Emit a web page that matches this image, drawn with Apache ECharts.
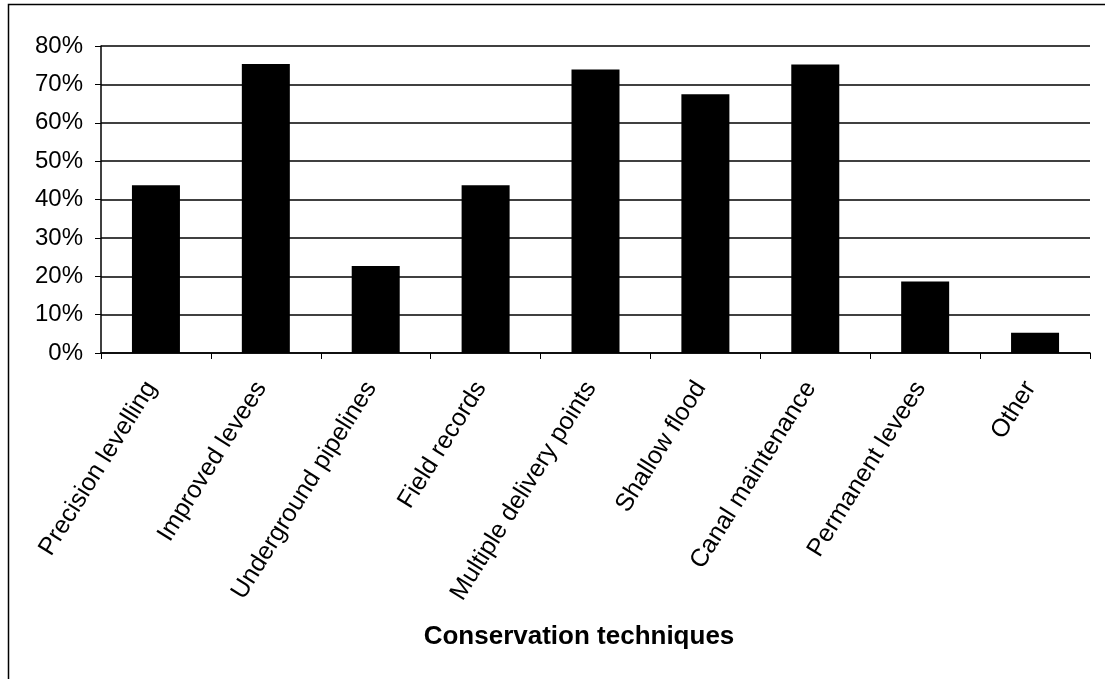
<!DOCTYPE html>
<html>
<head>
<meta charset="UTF-8">
<title>Conservation techniques</title>
<script type="text/javascript" src="https://cdn.jsdelivr.net/npm/echarts@6/dist/echarts.min.js"></script>
<style>
  body{margin:0;background:#fff}
</style>
</head>
<body>

<div id="main" style="width:1105px;height:679px"></div>
<script type="text/javascript">
	// categories and shares
	var techniques = ['Precision levelling', 'Improved levees', 'Underground pipelines', 'Field records',
		'Multiple delivery points', 'Shallow flood', 'Canal maintenance', 'Permanent levees', 'Other'];
	var share = [43.7, 75.3, 22.7, 43.7, 73.9, 67.4, 75.2, 18.6, 5.3];
	var yTicks = [0, 10, 20, 30, 40, 50, 60, 70, 80];

	var myEcharts = echarts.init(document.getElementById('main'));
	var font = 'Liberation Sans, Arial, sans-serif';

	var option = {
		animation: false,
		backgroundColor: '#fff',
		grid: {
			left: 101,
			right: 15,
			top: 46,
			bottom: 326
		},
		title: {
			text: 'Conservation techniques',
			left: 574,
			top: 619,
			textAlign: 'center',
			textStyle: {
				fontFamily: font,
				fontSize: 26,
				fontWeight: 'bold',
				color: '#000'
			}
		},
		graphic: [{
			type: 'rect',
			shape: {x: 8.5, y: 4.5, width: 1110, height: 700},
			style: {fill: 'none', stroke: '#000', lineWidth: 1.5}
		}],
		xAxis: {
			type: 'category',
			data: techniques,
			axisLine: {lineStyle: {color: '#000', width: 1.5}},
			axisTick: {show: true, length: 6, lineStyle: {color: '#000'}},
			axisLabel: {
				rotate: 58,
				interval: 0,
				margin: 23,
				padding: [0, 9, 0, 0],
				fontFamily: font,
				fontSize: 25,
				color: '#000'
			}
		},
		yAxis: {
			type: 'value',
			min: yTicks[0],
			max: yTicks[yTicks.length - 1],
			interval: 10,
			axisLine: {show: true, lineStyle: {color: '#000', width: 1.5}},
			axisTick: {show: true, length: 6, lineStyle: {color: '#000'}},
			splitLine: {lineStyle: {color: '#000', width: 1.5}},
			axisLabel: {
				margin: 18,
				fontFamily: font,
				fontSize: 24,
				color: '#000',
				formatter: '{value}%'
			}
		},
		series: [{
			type: 'bar',
			data: share,
			barWidth: 48,
			itemStyle: {color: '#000'}
		}]
	};
	myEcharts.setOption(option);
</script>
</body>
</html>
